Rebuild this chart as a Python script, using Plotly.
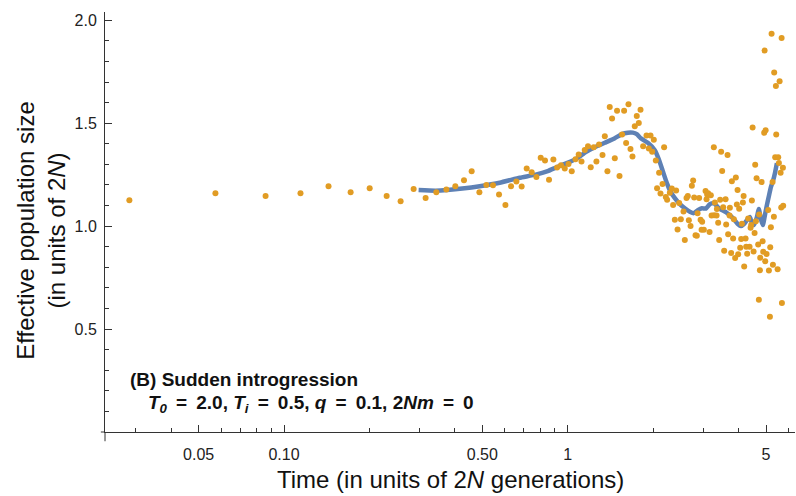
import plotly.graph_objects as go

# ---- data ----
early_times = [0.0285, 0.0573, 0.0861, 0.1143, 0.1435, 0.1717, 0.2004, 0.2300, 0.2576, 0.2863,
               0.3155, 0.3441, 0.3734, 0.4016, 0.4308, 0.4585, 0.4882, 0.5166, 0.5452, 0.5725,
               0.6030, 0.631, 0.659, 0.688, 0.7167, 0.7464, 0.7754, 0.803, 0.8315, 0.859,
               0.890, 0.917, 0.947, 0.976, 1.006, 1.033, 1.065, 1.093, 1.118, 1.148,
               1.179, 1.205, 1.235, 1.262, 1.289]
early_ne = [1.126, 1.160, 1.146, 1.160, 1.194, 1.165, 1.184, 1.146, 1.121, 1.180,
            1.137, 1.165, 1.178, 1.194, 1.223, 1.266, 1.164, 1.200, 1.198, 1.154,
            1.102, 1.194, 1.217, 1.193, 1.280, 1.262, 1.239, 1.332, 1.319, 1.225,
            1.324, 1.285, 1.296, 1.280, 1.302, 1.267, 1.325, 1.348, 1.314, 1.370,
            1.388, 1.286, 1.383, 1.314, 1.397]

mid_times = [1.326, 1.351, 1.380, 1.406, 1.433, 1.465, 1.492, 1.522, 1.554, 1.580,
             1.606, 1.637, 1.664, 1.691, 1.723, 1.751, 1.780, 1.805, 1.844, 1.895,
             1.931, 1.958, 1.984, 2.011]
mid_ne = [1.345, 1.437, 1.266, 1.578, 1.523, 1.330, 1.560, 1.244, 1.445, 1.560,
          1.404, 1.592, 1.375, 1.338, 1.485, 1.535, 1.501, 1.565, 1.388, 1.440,
          1.377, 1.440, 1.361, 1.419]

late_times = [2.044, 2.065, 2.099, 2.123, 2.158, 2.186, 2.216, 2.240, 2.290, 2.327,
              2.352, 2.385, 2.410, 2.438, 2.470, 2.504, 2.559, 2.586, 2.622, 2.650,
              2.672, 2.709, 2.738, 2.767, 2.790, 2.821, 2.851, 2.868, 2.905, 2.939,
              2.963, 2.977, 3.018, 3.060, 3.085, 3.100, 3.125, 3.161, 3.194, 3.213,
              3.273, 3.281, 3.300, 3.346, 3.355, 3.390, 3.418, 3.445, 3.473, 3.502,
              3.530, 3.559, 3.600, 3.617, 3.658, 3.676, 3.718, 3.727, 3.767, 3.788,
              3.828, 3.850, 3.891, 3.913, 3.945, 3.968, 3.987, 4.020, 4.053, 4.086,
              4.110, 4.143, 4.167, 4.187, 4.235, 4.255, 4.290, 4.325, 4.374, 4.410,
              4.432, 4.457, 4.483, 4.519, 4.556, 4.578, 4.604, 4.630, 4.690, 4.717,
              4.729, 4.756, 4.768, 4.822, 4.862, 4.886, 4.925, 4.941, 4.966, 4.982,
              5.022, 5.088, 5.117, 5.159, 5.172, 5.200, 5.230, 5.272, 5.286, 5.328,
              5.342, 5.385, 5.416, 5.430, 5.492, 5.518, 5.550, 5.581, 5.627, 5.655,
              5.673, 5.687, 5.733, 5.746]
late_ne = [1.319, 1.184, 1.259, 1.159, 1.205, 1.383, 1.141, 1.128, 1.162, 1.183,
           1.102, 1.031, 1.173, 0.984, 1.112, 1.033, 1.071, 0.932, 1.136, 1.146,
           1.029, 1.000, 1.196, 1.222, 1.139, 0.956, 0.953, 1.063, 1.136, 1.031,
           0.982, 1.021, 0.982, 1.170, 1.130, 1.154, 1.160, 0.972, 1.150, 1.052,
           1.383, 1.053, 1.115, 1.052, 1.083, 1.016, 0.933, 1.128, 1.361, 1.268,
           1.092, 0.880, 1.131, 1.008, 1.346, 0.960, 1.052, 1.089, 0.869, 1.218,
           0.940, 1.033, 0.845, 1.236, 1.105, 1.176, 0.863, 1.084, 0.895, 0.937,
           1.011, 1.115, 1.146, 0.804, 0.940, 0.900, 0.866, 1.037, 0.900, 0.992,
           1.006, 1.125, 1.479, 0.877, 0.966, 1.298, 1.024, 1.233, 0.911, 0.642,
           1.057, 0.786, 0.846, 1.214, 0.926, 0.875, 1.453, 1.853, 0.829, 1.466,
           0.864, 1.078, 0.785, 0.560, 0.897, 0.995, 1.934, 1.214, 0.812, 1.045,
           1.746, 1.335, 1.681, 1.445, 0.790, 1.335, 1.306, 1.704, 1.259, 1.091,
           1.914, 0.626, 1.283, 1.099]

line_t = [0.2981, 0.3423, 0.4330, 0.4894, 0.5756, 0.6772, 0.7712, 0.850, 0.9146, 0.992,
          1.076, 1.157, 1.245, 1.351, 1.465, 1.551, 1.628, 1.696, 1.751, 1.809,
          1.915, 2.027, 2.094, 2.163, 2.235, 2.308, 2.385, 2.484, 2.586, 2.694,
          2.783, 2.874, 2.970, 3.068, 3.169, 3.273, 3.381, 3.493, 3.608, 3.727,
          3.850, 3.977, 4.076, 4.177, 4.280, 4.385, 4.457, 4.530, 4.642, 4.717,
          4.794, 4.873, 4.953, 5.034, 5.117, 5.200, 5.286, 5.373, 5.460]
line_ne = [1.175, 1.172, 1.184, 1.194, 1.211, 1.235, 1.250, 1.267, 1.286, 1.306,
           1.328, 1.359, 1.383, 1.405, 1.427, 1.447, 1.454, 1.454, 1.447, 1.427,
           1.405, 1.369, 1.325, 1.267, 1.209, 1.165, 1.136, 1.107, 1.087, 1.070,
           1.063, 1.078, 1.087, 1.085, 1.107, 1.112, 1.092, 1.078, 1.068, 1.053,
           1.034, 1.010, 1.000, 1.010, 1.029, 1.044, 1.015, 1.005, 1.044, 1.083,
           1.034, 1.005, 1.053, 1.102, 1.146, 1.189, 1.218, 1.257, 1.306]

x_major = [0.05, 0.1, 0.5, 1, 5]
x_major_text = ["0.05", "0.10", "0.50", "1", "5"]
x_minor = [0.03, 0.04, 0.06, 0.07, 0.08, 0.09, 0.2, 0.3, 0.4, 0.6, 0.7, 0.8, 0.9, 2, 3, 4, 6]
y_major = [0.5, 1.0, 1.5, 2.0]
y_major_text = ["0.5", "1.0", "1.5", "2.0"]

dot_t = early_times + mid_times + late_times
dot_ne = early_ne + mid_ne + late_ne

FONT = "Liberation Sans, Arial, Helvetica, sans-serif"
AXC = "#333333"

fig = go.Figure()
fig.add_trace(go.Scatter(x=line_t, y=line_ne, mode="lines",
                         line=dict(color="#5E81B5", width=4.5, shape="spline", smoothing=0.4),
                         hoverinfo="skip", showlegend=False))
fig.add_trace(go.Scatter(x=dot_t, y=dot_ne, mode="markers",
                         marker=dict(color="#E19C24", size=6, line=dict(width=0)),
                         showlegend=False))

fig.update_layout(
    width=796, height=496,
    margin=dict(l=105, r=1, t=12, b=64),
    paper_bgcolor="white", plot_bgcolor="white",
    font=dict(family=FONT, color="#222222"),
    showlegend=False,
)
fig.update_xaxes(
    type="log", range=[-1.631, 0.801],
    showline=True, linecolor=AXC, linewidth=1, mirror=False,
    showgrid=False, zeroline=False,
    tickmode="array", tickvals=x_major, ticktext=x_major_text,
    ticks="inside", ticklen=7, tickwidth=1, tickcolor=AXC,
    tickfont=dict(size=16, family=FONT, color="#222222"),
    ticklabelstandoff=8,
    minor=dict(tickmode="array", tickvals=x_minor, ticks="inside", ticklen=4,
               tickwidth=1, tickcolor=AXC, showgrid=False),
)
fig.update_yaxes(
    range=[0, 2.04],
    showline=True, linecolor=AXC, linewidth=1, mirror=False,
    showgrid=False, zeroline=False,
    tickmode="array", tickvals=y_major, ticktext=y_major_text,
    ticks="inside", ticklen=7, tickwidth=1, tickcolor=AXC,
    tickfont=dict(size=16, family=FONT, color="#222222"),
    ticklabelstandoff=4,
    minor=dict(tick0=0, dtick=0.1, ticks="inside", ticklen=4,
               tickwidth=1, tickcolor=AXC, showgrid=False),
)

# small overshoot of the crossing axes
fig.add_shape(type="line", xref="paper", yref="paper", x0=0, x1=0, y0=-0.022, y1=0,
              line=dict(color=AXC, width=1))
fig.add_shape(type="line", xref="paper", yref="paper", x0=-0.006, x1=0, y0=0, y1=0,
              line=dict(color=AXC, width=1))

EQ = " \u2009=\u2009 "
fig.add_annotation(text="Time (in units of 2<i>N</i> generations)", xref="paper", yref="paper",
                   x=0.5, y=-0.114, xanchor="center", yanchor="middle", showarrow=False,
                   font=dict(size=24, family=FONT, color="#111111"))
fig.add_annotation(text="Effective population size<br>(in units of 2<i>N</i>)",
                   xref="paper", yref="paper", x=-0.093, y=0.479, textangle=-90,
                   xanchor="center", yanchor="middle", showarrow=False,
                   font=dict(size=24, family=FONT, color="#111111"))
fig.add_annotation(text="<b>(B) Sudden introgression</b>", xref="paper", yref="paper",
                   x=0.033, y=0.124, xanchor="left", yanchor="middle", showarrow=False,
                   font=dict(size=19, family=FONT, color="#111111"))
fig.add_annotation(text="<b><i>T</i><sub><i>0</i></sub>" + EQ + "2.0, <i>T</i><sub><i>i</i></sub>"
                        + EQ + "0.5, <i>q</i>" + EQ + "0.1, 2<i>Nm</i>" + EQ + "0</b>",
                   xref="paper", yref="paper",
                   x=0.06, y=0.067, xanchor="left", yanchor="middle", showarrow=False,
                   font=dict(size=19, family=FONT, color="#111111"))

fig.write_html("out.html", config={"displayModeBar": False},
               post_script="document.body.style.margin='0';document.body.style.overflow='hidden';")
